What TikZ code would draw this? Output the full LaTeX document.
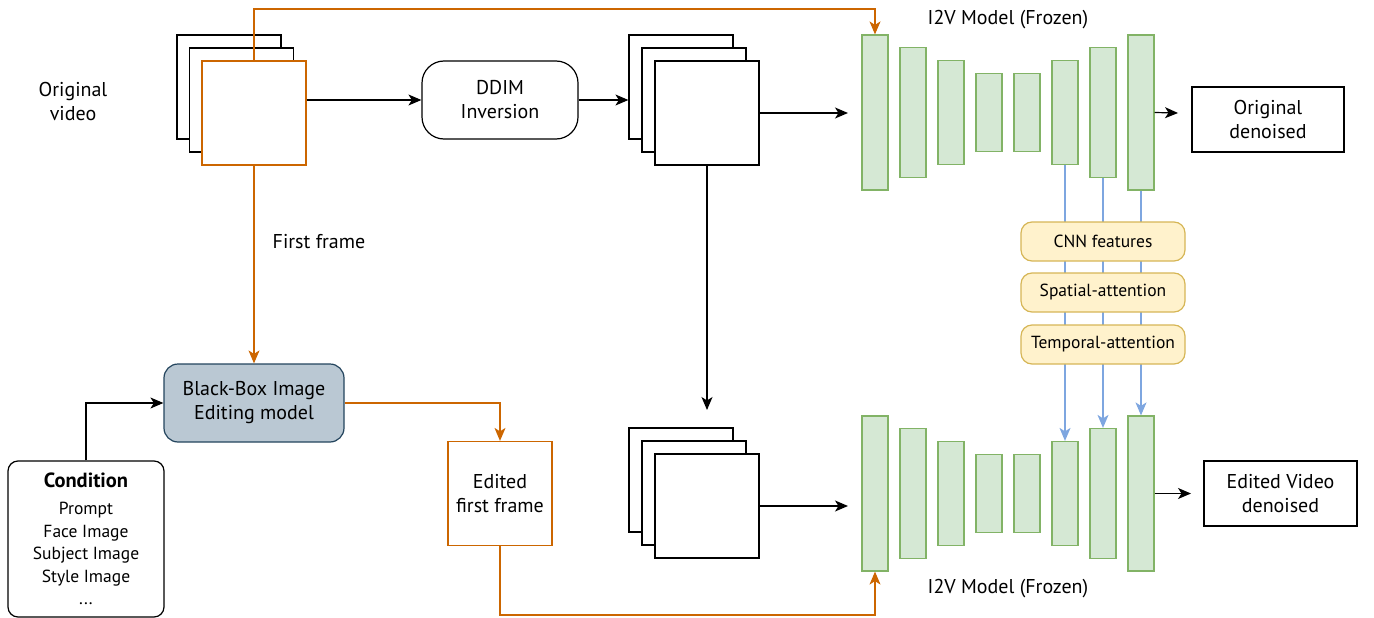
\documentclass[tikz,border=0pt]{standalone}
\usepackage{fontspec}
\setmainfont{PT Sans}
\usetikzlibrary{arrows.meta}
\definecolor{orangeln}{HTML}{CC6600}
\definecolor{blueln}{HTML}{7EA6E0}
\definecolor{greenln}{HTML}{82B366}
\definecolor{greenfill}{HTML}{D5E8D4}
\definecolor{featln}{HTML}{D6B656}
\definecolor{featfill}{HTML}{FFF2CC}
\definecolor{bbln}{HTML}{23445D}
\definecolor{bbfill}{HTML}{BAC8D3}
\begin{document}
\begin{tikzpicture}[x=1pt,y=-1pt,
  font=\fontsize{20}{24}\selectfont,
  frame/.style={draw=black, fill=white, line width=1.2pt, minimum width=104pt, minimum height=104pt, inner sep=0pt},
  oframe/.style={frame, draw=orangeln},
  bar/.style={draw=greenln, fill=greenfill, line width=1.2pt, minimum width=26pt, inner sep=0pt},
  feat/.style={draw=featln, fill=featfill, line width=1.2pt, rounded corners=11pt, minimum width=164pt, minimum height=39pt, inner sep=0pt, font=\fontsize{17.5}{21}\selectfont},
  plainbox/.style={draw=black, fill=white, line width=1.2pt, inner sep=0pt, align=center},
  arr/.style={-{Stealth[length=13pt,width=11pt,inset=3.5pt]}, line width=1.2pt},
  oarr/.style={arr, draw=orangeln},
  barr/.style={arr, draw=blueln},
  lbl/.style={align=center, inner sep=0pt}
]
\useasboundingbox (0,0) rectangle (1374,618);

% original video frames
\node[frame] (ovb) at (229,87) {};
\node[frame] (ovm) at (241.5,100) {};
\node[oframe] (ovf) at (254,113) {};
\node[lbl] (ovlbl) at (73,101) {Original\\video};

% DDIM inversion
\node[plainbox, rounded corners=22pt, minimum width=156pt, minimum height=78pt] (ddim) at (500,100) {DDIM\\Inversion};

% inverted latents
\node[frame] (s2b) at (681,87) {};
\node[frame] (s2m) at (694,100) {};
\node[frame] (s2f) at (707,113) {};

% latents for editing
\node[frame] (s3b) at (681,480) {};
\node[frame] (s3m) at (694,493) {};
\node[frame] (s3f) at (707,506) {};

% black-box editor, condition, edited frame
\node[draw=bbln, fill=bbfill, line width=1.2pt, rounded corners=14pt, minimum width=180pt, minimum height=78pt, inner sep=0pt, align=center] (bbox) at (254,403) {Black-Box Image\\Editing model};
\node[plainbox, rounded corners=10pt, minimum width=156pt, minimum height=156pt, font=\fontsize{17.5}{22.5}\selectfont] (cond) at (86,539) {{\fontsize{20.5}{22.5}\selectfont\bfseries Condition}\\[5pt]Prompt\\Face Image\\Subject Image\\Style Image\\...};
\node[oframe, align=center] (ef) at (500,493.5) {Edited\\first frame};
\node[lbl] (fflbl) at (319,242) {First frame};

% I2V U-Nets (top: original, bottom: edited)
\foreach \i/\x/\h in {1/875/155,2/913/130,3/951/104,4/989/78,5/1027/78,6/1065/104,7/1103/130,8/1141/155}{
  \node[bar, minimum height=\h pt] (tb\i) at (\x,112.5) {};
  \node[bar, minimum height=\h pt] (bb\i) at (\x,493.5) {};
}
\node[lbl] (toplbl) at (1008,20) {I2V Model (Frozen)};
\node[lbl] (botlbl) at (1008,589) {I2V Model (Frozen)};

% outputs
\node[plainbox, minimum width=152pt, minimum height=65pt] (od) at (1268,119.5) {Original\\denoised};
\node[plainbox, minimum width=153pt, minimum height=65pt] (evd) at (1280.5,493.5) {Edited Video\\denoised};

% feature injection
\draw[barr] (tb6.south) -- (bb6.north);
\draw[barr] (tb7.south) -- (bb7.north);
\draw[barr] (tb8.south) -- (bb8.north);
\node[feat] (cnn) at (1103,241.5) {CNN features};
\node[feat] (spa) at (1103,292.5) {Spatial-attention};
\node[feat] (tmp) at (1103,344.5) {Temporal-attention};

% free ends of connectors
\coordinate (in1) at (848,113);
\coordinate (in2) at (848,506);
\coordinate (dn) at (707,410);
\coordinate (out1) at (1178,113);
\coordinate (out2) at (1191,493.5);
\coordinate (otop) at (875,9);
\coordinate (obot) at (875,615);

% black connectors
\draw[arr] (ovf.east |- ddim.west) -- (ddim.west);
\draw[arr] (ddim.east) -- (ddim.east -| s2b.west);
\draw[arr] (s2f.east) -- (in1);
\draw[arr] (s2f.south) -- (dn);
\draw[arr] (s3f.east) -- (in2);
\draw[arr] (tb8.east) -- (out1);
\draw[arr] (bb8.east) -- (out2);
\draw[arr] (cond.north) |- (bbox.west);

% orange connectors
\draw[oarr] (ovf.north) |- (otop) -- (tb1.north);
\draw[oarr] (ovf.south) -- (bbox.north);
\draw[oarr] (bbox.east) -| (ef.north);
\draw[oarr] (ef.south) |- (obot) -- (bb1.south);
\end{tikzpicture}
\end{document}
